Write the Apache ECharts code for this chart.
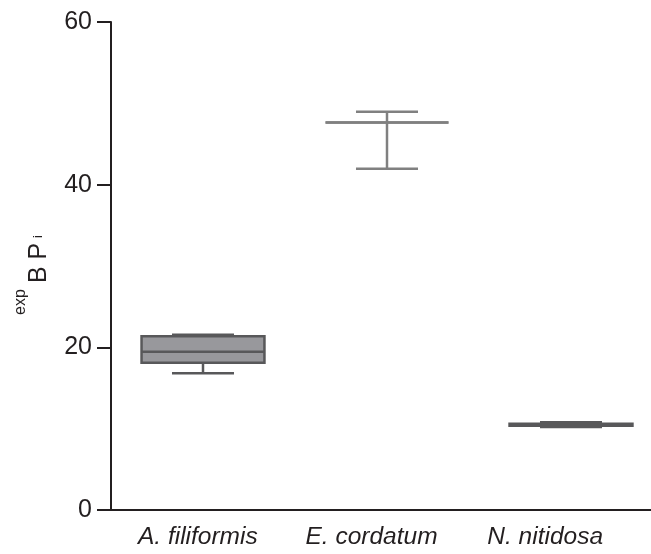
<!DOCTYPE html>
<html>
<head>
<meta charset="utf-8">
<script src="https://cdn.jsdelivr.net/npm/echarts@6/dist/echarts.min.js"></script>
<style>
  html, body { margin: 0; padding: 0; background: #fff; overflow: hidden; }
  /* the plotting area runs on past the right edge of the page */
  #chart { width: 670px; height: 554px; }
</style>
</head>
<body>
<div id="chart"></div>
<script>
// Species on the category axis
var species = ['A. filiformis', 'E. cordatum', 'N. nitidosa'];
// Box statistics per species: [min, Q1, median, Q3, max]
var aFiliformis = [16.8, 18.1, 19.45, 21.35, 21.55];
var eCordatum = [41.95, 47.65, 47.65, 47.65, 48.95];
var nNitidosa = [10.2, 10.35, 10.45, 10.6, 10.8];
// Value axis ticks
var yMin = 0, yMax = 60, yStep = 20;

var font = 'Arial, "Liberation Sans", Helvetica, sans-serif';
var ink = '#231f20';

// Stroke colour of each species' box plot
var strokeColors = ['#58585a', '#808080', '#58585a'];
var boxFill = '#98989c';

var rows = [aFiliformis, eCordatum, nNitidosa].map(function (s, i) {
  return [i].concat(s);
});

function renderBox(params, api) {
  var cat = api.value(0);
  var band = api.size([1, 0])[0];
  var boxW = band * 0.668;
  var capW = band * 0.337;
  var cx = api.coord([cat, 0])[0];
  var yMinV = api.coord([cat, api.value(1)])[1];
  var yQ1 = api.coord([cat, api.value(2)])[1];
  var yMed = api.coord([cat, api.value(3)])[1];
  var yQ3 = api.coord([cat, api.value(4)])[1];
  var yMaxV = api.coord([cat, api.value(5)])[1];
  var stroke = strokeColors[params.dataIndex];
  var lw = 2.5;
  var line = function (x1, y1, x2, y2) {
    return { type: 'line', shape: { x1: x1, y1: y1, x2: x2, y2: y2 },
      style: { stroke: stroke, lineWidth: lw } };
  };
  return {
    type: 'group',
    children: [
      line(cx, yQ3, cx, yMaxV),
      line(cx, yQ1, cx, yMinV),
      { type: 'rect', shape: { x: cx - boxW / 2, y: yQ3, width: boxW, height: yQ1 - yQ3 },
        style: { fill: boxFill, stroke: stroke, lineWidth: lw } },
      line(cx - boxW / 2, yMed, cx + boxW / 2, yMed),
      line(cx - capW / 2, yMaxV, cx + capW / 2, yMaxV),
      line(cx - capW / 2, yMinV, cx + capW / 2, yMinV)
    ]
  };
}

var chart = echarts.init(document.getElementById('chart'));
chart.setOption({
  animation: false,
  grid: [
    // plotting area
    { left: 111, width: 552, top: 22, bottom: 44 },
    // narrower band that carries the species names
    { left: 111, width: 521, top: 22, bottom: 44 }
  ],
  xAxis: [{
    type: 'category',
    gridIndex: 0,
    data: species,
    boundaryGap: true,
    axisLine: { lineStyle: { color: ink, width: 2 } },
    axisTick: { show: false },
    axisLabel: { show: false },
    splitLine: { show: false }
  }, {
    type: 'category',
    gridIndex: 1,
    data: species,
    boundaryGap: true,
    axisLine: { show: false },
    axisTick: { show: false },
    axisLabel: { fontFamily: font, fontStyle: 'italic', fontSize: 24.5, color: ink, margin: 15 },
    splitLine: { show: false }
  }],
  yAxis: [{
    type: 'value',
    gridIndex: 0,
    min: yMin, max: yMax, interval: yStep,
    axisLine: { show: true, lineStyle: { color: ink, width: 2 } },
    axisTick: { show: true, inside: false, length: 14, lineStyle: { color: ink, width: 2 } },
    axisLabel: { fontFamily: font, fontSize: 25, color: ink, margin: 19 },
    splitLine: { show: false }
  }, {
    type: 'value',
    gridIndex: 1,
    min: yMin, max: yMax, interval: yStep,
    show: false
  }],
  graphic: [{
    // Axis title "expB Pi", written along the rotated axis
    type: 'group',
    x: 0, y: 300,
    rotation: Math.PI / 2,
    children: [
      { type: 'text', x: -15, y: 20.5,
        style: { text: 'exp', fontFamily: font, fontSize: 16, fill: ink, align: 'left', verticalAlign: 'middle' } },
      { type: 'text', x: 17, y: 39,
        style: { text: 'B P', fontFamily: font, fontSize: 25, fill: ink, align: 'left', verticalAlign: 'middle' } },
      { type: 'text', x: 62, y: 38.5,
        style: { text: 'i', fontFamily: font, fontSize: 13, fill: ink, align: 'left', verticalAlign: 'middle' } }
    ]
  }],
  series: [{
    type: 'custom',
    xAxisIndex: 0,
    yAxisIndex: 0,
    renderItem: renderBox,
    encode: { x: 0, y: [1, 2, 3, 4, 5] },
    data: rows
  }]
});
</script>
</body>
</html>
